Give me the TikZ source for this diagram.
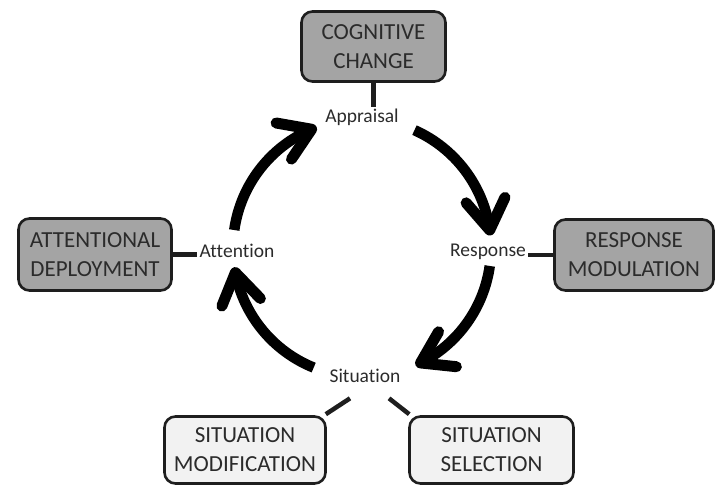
\documentclass[tikz,border=0pt]{standalone}
\usepackage{fontspec}
\setmainfont{Carlito}[Ligatures={NoCommon}]
\definecolor{boxline}{HTML}{1E1E1E}
\definecolor{darkfill}{HTML}{A4A4A4}
\definecolor{lightfill}{HTML}{F2F2F2}
\definecolor{txt}{HTML}{2B2B2B}
\begin{document}
\begin{tikzpicture}[x=1pt,y=1pt,
  boxbase/.style={draw=boxline, line width=2.6pt, rounded corners=11pt, inner sep=0pt, align=center, text=txt, font=\fontsize{23}{29}\selectfont},
  darkbox/.style={boxbase, fill=darkfill},
  lightbox/.style={boxbase, fill=lightfill},
  lbl/.style={text=txt, font=\fontsize{19.5}{22}\selectfont, inner sep=2pt},
  link/.style={draw=boxline, line width=4.5pt},
  cyc/.style={draw=black, line width=10.5pt},
  chev/.style={draw=black, line width=11pt, line join=round, line cap=round}]
\useasboundingbox (0,0) rectangle (722,486);
\node[darkbox, minimum width=144pt, minimum height=70pt] (cog) at (373.5,439.5) {COGNITIVE\\CHANGE};
\node[darkbox, minimum width=159pt, minimum height=71pt] (resmod) at (634,231) {RESPONSE\\MODULATION};
\node[darkbox, minimum width=153pt, minimum height=72pt] (attdep) at (95,231.5) {ATTENTIONAL\\DEPLOYMENT};
\node[lightbox, minimum width=161pt, minimum height=67pt] (sitmod) at (245,36) {SITUATION\\MODIFICATION};
\node[lightbox, minimum width=164pt, minimum height=67pt] (sitsel) at (491.5,36) {SITUATION\\SELECTION};
\node[lbl, anchor=base] (appraisal) at (362,363) {Appraisal};
\node[lbl, anchor=base] (response) at (488,229) {Response};
\node[lbl, anchor=base] (attention) at (237,228) {Attention};
\node[lbl, anchor=base] (situation) at (365,103) {Situation};
\draw[link] (cog.south) -- (cog.south |- appraisal.north);
\draw[link] (resmod.west) -- (resmod.west -| response.east);
\draw[link] (attdep.east) -- (attdep.east -| attention.west);
\draw[link] ([shift={(-15pt,-13pt)}]situation.south) -- ([shift={(-1pt,1pt)}]sitmod.north east);
\draw[link] ([shift={(24pt,-13pt)}]situation.south) -- ([shift={(1pt,1pt)}]sitsel.north west);
\coordinate (C) at (362,238);
\foreach \s/\e/\n [evaluate=\e as \aa using \e+123, evaluate=\e as \bb using \e+57] in {172/113/a, 66/8/b, -8/-63/c, -112/-169/d} {
  \draw[cyc] ([shift={(\s:129pt)}]C) arc[start angle=\s, end angle=\e, radius=129pt] coordinate (\n tip);
  \draw[chev] ([shift={(\aa:36pt)}]\n tip) -- (\n tip) -- ([shift={(\bb:36pt)}]\n tip);
}
\end{tikzpicture}
\end{document}
